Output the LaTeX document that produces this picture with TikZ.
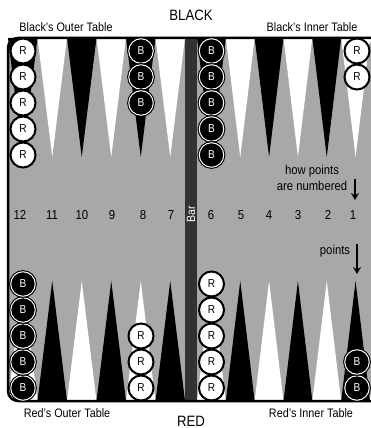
\documentclass[tikz,border=0pt]{standalone}
\usepackage{fontspec}
\setmainfont{Liberation Sans}[FakeStretch=0.88]
\usetikzlibrary{arrows.meta}
\definecolor{boardgray}{RGB}{168,168,168}
\definecolor{bargray}{RGB}{50,50,50}
\begin{document}
\begin{tikzpicture}[x=1pt,y=-1pt,
  rchk/.style={circle,fill=white,draw=black,line width=2pt,minimum size=25pt,inner sep=0pt,font=\fontsize{11.5}{11.5}\selectfont},
  bchk/.style={circle,fill=black,draw=black,line width=1.1pt,double=white,double distance=1pt,minimum size=24.5pt,inner sep=0pt,text=white,font=\fontsize{11.5}{11.5}\selectfont},
  numlbl/.style={font=\fontsize{13}{13}\selectfont,inner sep=0pt},
  tbl/.style={font=\fontsize{12.3}{12.3}\selectfont,inner sep=0pt},
  side/.style={font=\fontsize{15}{15}\selectfont,inner sep=0pt},
  note/.style={font=\fontsize{12.8}{15.5}\selectfont,inner sep=0pt,align=center},
  pointer/.style={line width=1.8pt,-{Stealth[length=7pt,width=8pt]}}]
\useasboundingbox (0,0) rectangle (370,428);
% board
\fill[boardgray,rounded corners=10] (372,38) -- (8,38) -- (8,401) -- (372,401) -- cycle;
% points
\foreach \k/\ct/\cb in {0/black/white,1/white/black,2/black/white,3/white/black,4/black/white,5/white/black}{
  \pgfmathsetmacro\xa{8+29.5*\k}
  \pgfmathsetmacro\xb{8+29.5*(\k+1)}
  \pgfmathsetmacro\xm{(\xa+\xb)/2}
  \fill[\ct] (\xa,38) -- (\xm,157) -- (\xb,38) -- cycle;
  \fill[\cb] (\xa,401) -- (\xm,281) -- (\xb,401) -- cycle;
  \pgfmathsetmacro\ya{197+28.833*\k}
  \pgfmathsetmacro\yb{197+28.833*(\k+1)}
  \pgfmathsetmacro\ym{(\ya+\yb)/2}
  \fill[\ct] (\ya,38) -- (\ym,157) -- (\yb,38) -- cycle;
  \fill[\cb] (\ya,401) -- (\ym,281) -- (\yb,401) -- cycle;
}
% bar
\fill[bargray] (185,38) rectangle (197,401);
\node[rotate=90,text=white,font=\fontsize{12}{12}\selectfont,inner sep=0pt] (bar) at (191,214) {Bar};
% frame
\draw[line width=2.5pt,rounded corners=10] (372,38) -- (8,38) -- (8,401) -- (372,401);
% checkers
\foreach \y [count=\n] in {51,77,103,129,155}{
  \node[rchk] (ra\n) at (23,\y) {R};
  \node[bchk] (ba\n) at (211.5,\y) {B};
}
\foreach \y [count=\n] in {51,77,103}{
  \node[bchk] (bb\n) at (141,\y) {B};
}
\foreach \y [count=\n] in {51,77}{
  \node[rchk] (rb\n) at (357,\y) {R};
}
\foreach \y [count=\n] in {388,362,336,310,284}{
  \node[bchk] (bc\n) at (23,\y) {B};
  \node[rchk] (rc\n) at (211.5,\y) {R};
}
\foreach \y [count=\n] in {388,362,336}{
  \node[rchk] (rd\n) at (141,\y) {R};
}
\foreach \y [count=\n] in {388,362}{
  \node[bchk] (bd\n) at (357,\y) {B};
}
% numbers
\foreach \x/\t in {20/12,52/11,82/10,112/9,143/8,171/7,211/6,241/5,269/4,298/3,328/2,353/1}{
  \node[numlbl] (n\t) at (\x,215) {\t};
}
% titles
\node[side] (black) at (191,15) {BLACK};
\node[side] (red) at (191,421) {RED};
\node[tbl] (bot) at (66,27) {Black's Outer Table};
\node[tbl] (bit) at (312,27) {Black's Inner Table};
\node[tbl] (rot) at (67,413) {Red's Outer Table};
\node[tbl] (rit) at (311,413) {Red's Inner Table};
% notes
\node[note] (how) at (312,178) {how points\\are numbered};
\coordinate (h1) at (355,179);
\coordinate (h2) at (355,200);
\draw[pointer] (h1) -- (h2);
\node[note] (pts) at (335,251) {points};
\coordinate (p1) at (357,244);
\coordinate (p2) at (357,274);
\draw[pointer] (p1) -- (p2);
\end{tikzpicture}
\end{document}
